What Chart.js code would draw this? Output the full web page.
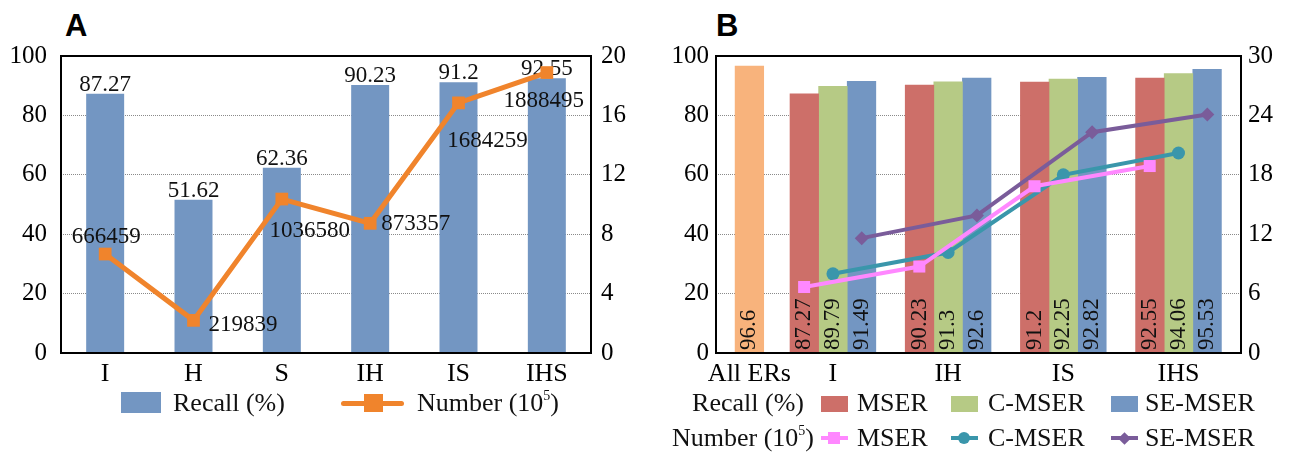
<!DOCTYPE html>
<html lang="en">
<head>
<meta charset="UTF-8">
<title>Recall and number of extremal regions</title>
<script src="https://cdn.jsdelivr.net/npm/chart.js"></script>
<style>
  body { margin: 0; width: 1290px; height: 454px; position: relative; overflow: hidden; background: #fff;
         font-family: 'Liberation Serif', 'Times New Roman', serif; color: #111; }
  canvas { position: absolute; top: 0; }
  .tag { position: absolute; top: 10px; font: bold 31px/1 'Liberation Sans', Arial, sans-serif; color: #000; }
  .lg { position: absolute; font-size: 26px; line-height: 1; white-space: nowrap; }
  .lg sup { font-size: 14px; line-height: 0; vertical-align: 11px; }
  .sw { position: absolute; }
</style>
</head>
<body>
  <div class="tag" style="left:65px">A</div>
  <div class="tag" style="left:716px">B</div>
  <canvas id="chartA" width="645" height="454" style="left:0"></canvas>
  <canvas id="chartB" width="645" height="454" style="left:645px"></canvas>

  <!-- legend A -->
  <div class="sw" style="left:121px;top:392px;width:40px;height:21px;background:#7396C2"></div>
  <div class="lg" style="left:173px;top:390px">Recall (%)</div>
  <div class="sw" style="left:341px;top:401px;width:63px;height:5px;border-radius:3px;background:#F0842C"></div>
  <div class="sw" style="left:364px;top:394px;width:19px;height:18px;background:#F0842C"></div>
  <div class="lg" style="left:417px;top:390px">Number (10<sup>5</sup>)</div>

  <!-- legend B, row 1 -->
  <div class="lg" style="right:486px;top:390px">Recall (%)</div>
  <div class="sw" style="left:821px;top:396px;width:27px;height:16px;background:#CD6F69"></div>
  <div class="lg" style="left:857px;top:390px">MSER</div>
  <div class="sw" style="left:951px;top:396px;width:27px;height:16px;background:#B6CA85"></div>
  <div class="lg" style="left:988px;top:390px">C-MSER</div>
  <div class="sw" style="left:1111px;top:396px;width:27px;height:16px;background:#7396C2"></div>
  <div class="lg" style="left:1145px;top:390px">SE-MSER</div>

  <!-- legend B, row 2 -->
  <div class="lg" style="right:476px;top:425px">Number (10<sup>5</sup>)</div>
  <div class="sw" style="left:821px;top:436px;width:27px;height:4px;background:#FF88FF"></div>
  <div class="sw" style="left:828px;top:432px;width:12px;height:12px;background:#FF88FF"></div>
  <div class="lg" style="left:857px;top:425px">MSER</div>
  <div class="sw" style="left:951px;top:436px;width:27px;height:4px;background:#3A96AB"></div>
  <div class="sw" style="left:958px;top:432px;width:12px;height:12px;border-radius:50%;background:#3A96AB"></div>
  <div class="lg" style="left:988px;top:425px">C-MSER</div>
  <div class="sw" style="left:1111px;top:436px;width:27px;height:4px;background:#7A5C9A"></div>
  <div class="sw" style="left:1120px;top:434px;width:9px;height:9px;transform:rotate(45deg);background:#7A5C9A"></div>
  <div class="lg" style="left:1145px;top:425px">SE-MSER</div>

<script>
// ---- data: panel A ----
const catsA = ['I', 'H', 'S', 'IH', 'IS', 'IHS'];
const recallA = [87.27, 51.62, 62.36, 90.23, 91.2, 92.55];
const numberA = [6.66459, 2.19839, 10.3658, 8.73357, 16.84259, 18.88495];   // x 10^5

// ---- data: panel B ----
const catsB = ['All ERs', 'I', 'IH', 'IS', 'IHS'];
const recallAll = [96.6, null, null, null, null];
const recallMSER = [null, 87.27, 90.23, 91.2, 92.55];
const recallCMSER = [null, 89.79, 91.3, 92.25, 94.06];
const recallSEMSER = [null, 91.49, 92.6, 92.82, 95.53];
const numMSER = [null, 6.66459, 8.73357, 16.84259, 18.88495];
const numCMSER = [null, 8.0, 10.15, 18.0, 20.2];
const numSEMSER = [null, 11.6, 13.9, 22.3, 24.1];

// ---- layout / style ----
const groupCenter = [1.1, 4, 8, 12, 16];      // x position of each group, in bar widths
const slot = { mser: -1, cmser: 0, semser: 1 };
// label placement for the Number series in A: [dx, dy of baseline, align]
const numLabelPlace = [[1, -11, 'center'], [15, 11, 'left'], [28, 38, 'center'],
                       [11, 7, 'left'], [29, 44, 'center'], [-3, 34, 'center']];
const col = {
  blue: '#7396C2', orange: '#F0842C', allErs: '#F8B37C', red: '#CD6F69', green: '#B6CA85',
  pink: '#FF88FF', teal: '#3A96AB', purple: '#7A5C9A'
};

Chart.defaults.font.family = "'Liberation Serif', 'Times New Roman', serif";
Chart.defaults.color = '#000';

const yGrid = { color: '#8a8a8a', lineWidth: 1, drawTicks: false };
const yBorder = { display: false, dash: [1, 1] };

const frame = {
  id: 'frame',
  afterDatasetsDraw(chart) {
    const { ctx, chartArea: a } = chart;
    ctx.save();
    ctx.strokeStyle = '#000';
    ctx.lineWidth = 2;
    ctx.strokeRect(a.left, a.top, a.right - a.left, a.bottom - a.top);
    ctx.restore();
  }
};

// value labels, panel A
const labelsA = {
  id: 'labelsA',
  afterDatasetDraw(chart, args) {
    if (args.index !== 0) return;
    const ctx = chart.ctx;
    ctx.save();
    ctx.font = "23px 'Liberation Serif'";
    ctx.fillStyle = '#111';
    ctx.textAlign = 'center';
    ctx.textBaseline = 'alphabetic';
    args.meta.data.forEach((bar, i) => ctx.fillText(String(recallA[i]), bar.x, bar.y - 3));
    ctx.restore();
  },
  afterDatasetsDraw(chart) {
    const ctx = chart.ctx;
    const meta = chart.getDatasetMeta(1);
    ctx.save();
    ctx.font = "23px 'Liberation Serif'";
    ctx.fillStyle = '#111';
    ctx.textBaseline = 'alphabetic';
    meta.data.forEach((pt, i) => {
      const [dx, dy, align] = numLabelPlace[i];
      ctx.textAlign = align;
      ctx.fillText(String(Math.round(numberA[i] * 1e5)), pt.x + dx, pt.y + dy);
    });
    ctx.restore();
  }
};

// vertical value labels inside the bars, panel B
const labelsB = {
  id: 'labelsB',
  afterDatasetDraw(chart, args) {
    if (chart.data.datasets[args.index].type !== 'bar') return;
    const ctx = chart.ctx;
    const base = chart.chartArea.bottom;
    ctx.save();
    ctx.font = "23px 'Liberation Serif'";
    ctx.fillStyle = '#111';
    ctx.textAlign = 'left';
    ctx.textBaseline = 'middle';
    args.meta.data.forEach((bar, i) => {
      const v = chart.data.datasets[args.index].data[i].y;
      if (v === null) return;
      ctx.save();
      ctx.translate(bar.x, base - 3);
      ctx.rotate(-Math.PI / 2);
      ctx.fillText(String(v), 0, 0);
      ctx.restore();
    });
    ctx.restore();
  }
};

new Chart(document.getElementById('chartA'), {
  type: 'bar',
  data: {
    labels: catsA,
    datasets: [
      { type: 'bar', label: 'Recall (%)', data: recallA, backgroundColor: col.blue, yAxisID: 'y',
        order: 1, categoryPercentage: 1, barPercentage: 0.43 },
      { type: 'line', label: 'Number (10^5)', data: numberA, yAxisID: 'y1', order: 0,
        borderColor: col.orange, backgroundColor: col.orange, borderWidth: 5,
        pointStyle: 'rect', pointRadius: 9, pointHoverRadius: 9, pointBorderWidth: 0 }
    ]
  },
  options: {
    responsive: false,
    animation: false,
    layout: { padding: { top: 56, left: 0, right: 0, bottom: 0 } },
    plugins: { legend: { display: false }, tooltip: { enabled: false } },
    scales: {
      x: {
        grid: { display: false, drawTicks: false }, border: { display: false },
        ticks: { font: { size: 26 }, padding: 6, maxRotation: 0 },
        afterFit(s) { s.height = 101; }
      },
      y: {
        position: 'left', min: 0, max: 100,
        ticks: { stepSize: 10, font: { size: 25 }, padding: 14, callback: v => (v % 20 === 0 ? v : '') },
        grid: yGrid, border: yBorder,
        afterFit(s) { s.width = 61; }
      },
      y1: {
        position: 'right', min: 0, max: 20,
        ticks: { stepSize: 4, font: { size: 25 }, padding: 10 },
        grid: { display: false, drawTicks: false }, border: { display: false },
        afterFit(s) { s.width = 54; }
      }
    }
  },
  plugins: [frame, labelsA]
});

const pts = (vals, off) => catsB.map((c, i) => ({ x: groupCenter[i] + off, y: vals[i] }));
const barSet = (label, vals, color) => ({
  type: 'bar', label, data: pts(vals, 0), backgroundColor: color, yAxisID: 'y',
  order: 1, barThickness: 28.6, skipNull: true
});
const lineSet = (label, vals, off, color, style, r) => ({
  type: 'line', label, data: pts(vals, off), yAxisID: 'y1', order: 0,
  borderColor: color, backgroundColor: color, borderWidth: 4,
  pointStyle: style, pointRadius: r, pointHoverRadius: r, pointBorderWidth: 0
});

new Chart(document.getElementById('chartB'), {
  type: 'bar',
  data: {
    datasets: [
      barSet('All ERs', recallAll, col.allErs),
      barSet('MSER', recallMSER, col.red),
      barSet('C-MSER', recallCMSER, col.green),
      barSet('SE-MSER', recallSEMSER, col.blue),
      lineSet('MSER', numMSER, slot.mser, col.pink, 'rect', 8.5),
      lineSet('C-MSER', numCMSER, slot.cmser, col.teal, 'circle', 6.5),
      lineSet('SE-MSER', numSEMSER, slot.semser, col.purple, 'rectRot', 7)
    ]
  },
  options: {
    responsive: false,
    animation: false,
    layout: { padding: { top: 56, left: 0, right: 0, bottom: 0 } },
    plugins: { legend: { display: false }, tooltip: { enabled: false } },
    scales: {
      x: {
        type: 'linear', min: -0.06, max: 18.17, offset: false,
        grid: { display: false, drawTicks: false }, border: { display: false },
        afterBuildTicks(s) { s.ticks = groupCenter.map(v => ({ value: v })); },
        ticks: { font: { size: 26 }, padding: 6, maxRotation: 0, minRotation: 0, autoSkip: false,
                 callback: (v, i) => catsB[i] },
        afterFit(s) { s.height = 101; }
      },
      y: {
        position: 'left', min: 0, max: 100,
        ticks: { stepSize: 10, font: { size: 25 }, padding: 7, callback: v => (v % 20 === 0 ? v : '') },
        grid: yGrid, border: yBorder,
        afterFit(s) { s.width = 71; }
      },
      y1: {
        position: 'right', min: 0, max: 30,
        ticks: { stepSize: 6, font: { size: 25 }, padding: 7 },
        grid: { display: false, drawTicks: false }, border: { display: false },
        afterFit(s) { s.width = 49; }
      }
    }
  },
  plugins: [frame, labelsB]
});
</script>
</body>
</html>
